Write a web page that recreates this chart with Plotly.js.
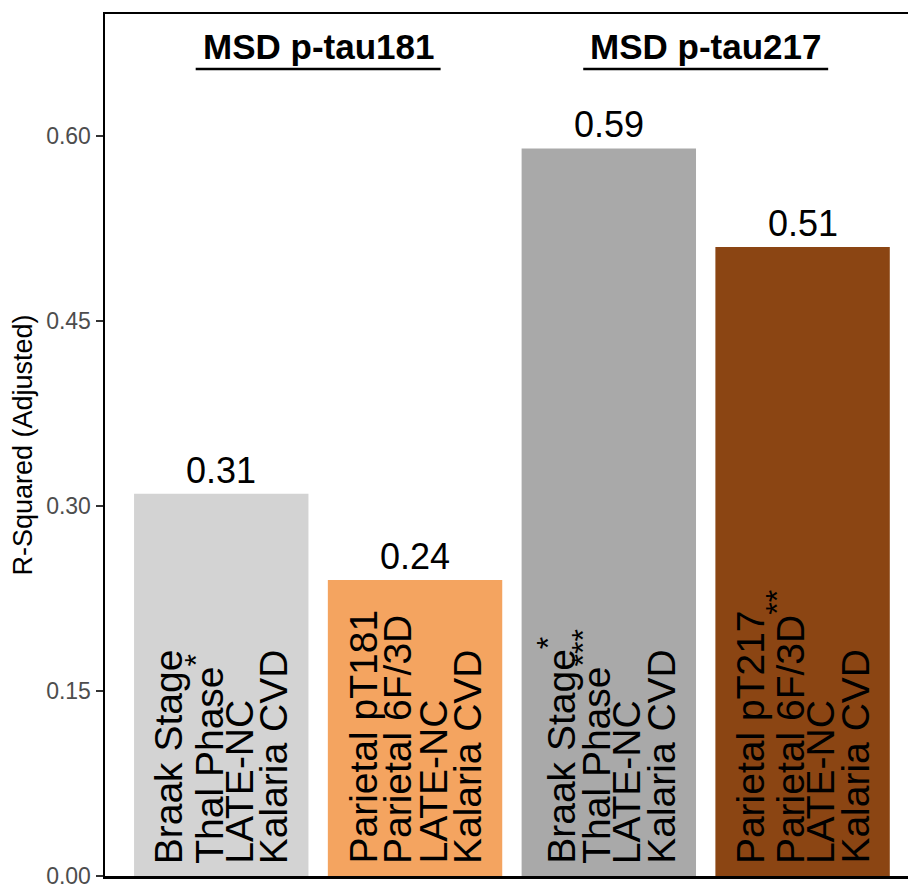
<!DOCTYPE html>
<html>
<head>
<meta charset="utf-8">
<script src="https://cdn.plot.ly/plotly-3.0.1.min.js"></script>
<style>html,body{margin:0;padding:0;background:#fff;}#chart{width:908px;height:886px;}</style>
</head>
<body>
<div id="chart"></div>
<script>
// ---- data ----
const categories = ['p-tau181 neuropathology', 'p-tau181 parietal', 'p-tau217 neuropathology', 'p-tau217 parietal'];
const rSquared = [0.31, 0.24, 0.59, 0.51];
const valueLabels = ['0.31', '0.24', '0.59', '0.51'];
const barLineText = [
  ['Braak Stage', 'Thal Phase', 'LATE-NC', 'Kalaria CVD'],
  ['Parietal pT181', 'Parietal 6F/3D', 'LATE-NC', 'Kalaria CVD'],
  ['Braak Stage', 'Thal Phase', 'LATE-NC', 'Kalaria CVD'],
  ['Parietal pT217', 'Parietal 6F/3D', 'LATE-NC', 'Kalaria CVD']
];
const barLineStars = [
  ['', '*', '', ''],
  ['', '', '', ''],
  ['*', '***', '', ''],
  ['', '**', '', '']
];
const groupTitles = ['MSD p-tau181', 'MSD p-tau217'];
const groupCenters = [0.5, 2.5];
const yTickVals = [0, 0.15, 0.30, 0.45, 0.60];
const yTickText = ['0.00', '0.15', '0.30', '0.45', '0.60'];
const yTitle = 'R-Squared (Adjusted)';

// ---- styles ----
const barColors = ['#d3d3d3', '#f4a460', '#a9a9a9', '#8b4513'];
const FONT = 'Liberation Sans, Arial, Helvetica, sans-serif';
const lineSpacing = 35;

const annotations = [];
categories.forEach((c, i) => {
  annotations.push({
    x: c, y: rSquared[i], xref: 'x', yref: 'y',
    text: valueLabels[i], showarrow: false,
    xanchor: 'center', yanchor: 'bottom', yshift: 1,
    font: {family: FONT, size: 36, color: '#000'}
  });
  barLineText[i].forEach((ln, j) => {
    const star = barLineStars[i][j];
    const txt = star ? ln + '<sup><span style="font-size:32px">' + star + '</span></sup>' : ln;
    annotations.push({
      x: c, y: 0, xref: 'x', yref: 'y',
      text: txt, showarrow: false, textangle: -90,
      xanchor: 'center', yanchor: 'bottom', yshift: 10,
      xshift: (j - 1.5) * lineSpacing,
      font: {family: FONT, size: 39, color: '#000'}
    });
  });
});
const shapes = [];
groupTitles.forEach((t, k) => {
  annotations.push({
    x: groupCenters[k], y: 0.962, xref: 'x', yref: 'paper',
    text: '<b>' + t + '</b>', showarrow: false,
    xanchor: 'center', yanchor: 'middle',
    font: {family: FONT, size: 35, color: '#000'}
  });
  shapes.push({
    type: 'line', xref: 'x', yref: 'paper',
    x0: groupCenters[k] - 0.632, x1: groupCenters[k] + 0.632,
    y0: 0.9362, y1: 0.9362,
    line: {color: '#000', width: 2.5}
  });
});

const trace = {
  type: 'bar',
  x: categories,
  y: rSquared,
  marker: {color: barColors, line: {width: 0}},
  hoverinfo: 'skip'
};

const layout = {
  width: 908, height: 886,
  margin: {l: 105, r: 0, t: 14, b: 10, pad: 0},
  paper_bgcolor: '#fff', plot_bgcolor: '#fff',
  bargap: 0.1,
  showlegend: false,
  xaxis: {
    type: 'category', range: [-0.6, 3.544],
    showline: true, mirror: true, linecolor: '#000', linewidth: 2.5,
    showticklabels: false, ticks: '', showgrid: false, zeroline: false, fixedrange: true
  },
  yaxis: {
    range: [0, 0.699],
    tickvals: yTickVals, ticktext: yTickText,
    ticks: 'outside', ticklen: 7, tickwidth: 2, tickcolor: '#333',
    tickfont: {family: FONT, size: 23, color: '#4d4d4d'},
    ticklabeloverflow: 'allow', ticklabelstandoff: 0,
    showline: true, linecolor: '#000', linewidth: 2.5,
    showgrid: false, zeroline: false,
    title: {text: yTitle, font: {family: FONT, size: 27, color: '#000'}, standoff: 6}
  },
  annotations: annotations,
  shapes: shapes
};

Plotly.newPlot('chart', [trace], layout, {displayModeBar: false, staticPlot: true});
</script>
</body>
</html>
